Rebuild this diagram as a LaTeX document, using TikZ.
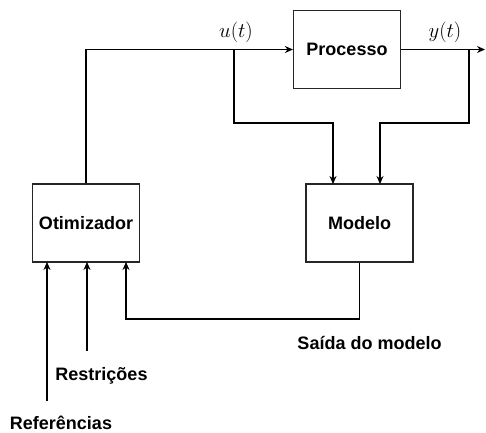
\documentclass[tikz,border=0pt]{standalone}
\usepackage{fontspec}
\setmainfont{Liberation Sans}
\usetikzlibrary{arrows.meta}
\begin{document}
\begin{tikzpicture}[x=1pt,y=-1pt,
  block/.style={draw=black!85,line width=1.2pt,minimum width=107pt,minimum height=78pt,inner sep=0pt,
    font=\fontsize{18}{20}\selectfont\bfseries},
  wire/.style={draw=black,line width=1.1pt},
  arr/.style={wire,-{Stealth[length=8pt,width=7pt]}},
  lbl/.style={font=\fontsize{18}{20}\selectfont\bfseries,inner sep=0pt},
  mathlbl/.style={font=\fontsize{20}{24}\selectfont,inner sep=0pt}]
\useasboundingbox (0,0) rectangle (486,432);

% blocks
\node[block] (proc) at (347,49.5) {Processo};
\node[block] (opt) at (86,223) {Otimizador};
\node[block] (mod) at (359.5,223) {Modelo};

% junction and port points
\coordinate (ub) at (234,49.5);
\coordinate (uc) at (234,123);
\coordinate (yb) at (469,49.5);
\coordinate (yc) at (469,123);
\coordinate (yend) at (485,49.5);
\coordinate (modinA) at (333,184);
\coordinate (modinB) at (380,184);
\coordinate (optinA) at (47,262);
\coordinate (optinB) at (87,262);
\coordinate (optinC) at (126,262);
\coordinate (fbc) at (126,319);
\coordinate (ref) at (47,401);
\coordinate (res) at (87,351);

% control signal to the process and the model
\draw[arr] (opt.north) |- (proc.west);
\draw[arr] (ub) -- (uc) -| (modinA);

% process output
\draw[arr] (proc.east) -- (yend);
\draw[arr] (yb) -- (yc) -| (modinB);

% model output back to the optimizer
\draw[arr] (mod.south) |- (fbc) -- (optinC);

% external inputs
\draw[arr] (ref) -- (optinA);
\draw[arr] (res) -- (optinB);

% labels
\node[mathlbl] (ulbl) at (236,32) {$u(t)$};
\node[mathlbl] (ylbl) at (445,32) {$y(t)$};
\node[lbl] (saida) at (369.5,343) {Saída do modelo};
\node[lbl] (restr) at (101.5,376) {Restrições};
\node[lbl] (refer) at (61,422.5) {Referências};
\end{tikzpicture}
\end{document}
